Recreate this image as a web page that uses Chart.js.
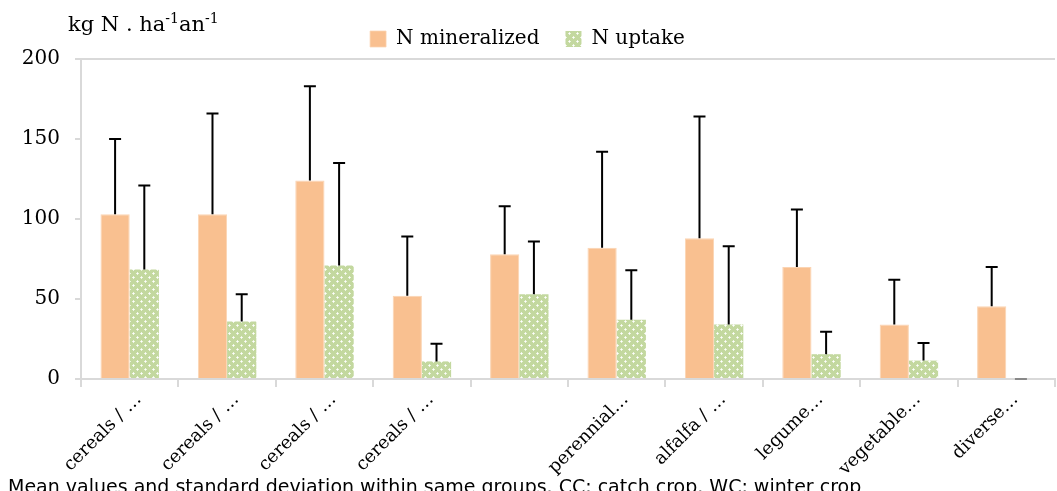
<!DOCTYPE html>
<html>
<head>
<meta charset="utf-8">
<script src="https://cdn.jsdelivr.net/npm/chart.js@4.4.1/dist/chart.umd.min.js"></script>
<style>
  html, body { margin: 0; padding: 0; background: #fff; }
  #wrap { position: relative; width: 1057px; height: 491px; overflow: hidden; }
</style>
</head>
<body>
<div id="wrap"><canvas id="chart"></canvas></div>
<script>
// ============================= data

const categories = ['cereals / …', 'cereals / …', 'cereals / …', 'cereals / …', '',
    'perennial…', 'alfalfa / …', 'legume…', 'vegetable…', 'diverse…']

const nMineralized = [103, 103, 124, 52, 78, 82, 88, 70, 34, 45.5]
const nMineralizedSd = [47, 63, 59, 37, 30, 60, 76, 36, 28, 24.5]

const nUptake = [68.5, 36, 71, 11, 53, 37, 34, 15.5, 11.5, 0]
const nUptakeSd = [52.5, 17, 64, 11, 33, 31, 49, 14, 11, 0]

const yTicks = [0, 50, 100, 150, 200]

const SERIF = '"DejaVu Serif", serif'
const AXIS_GREY = '#d9d9d9'

// ============================= dotted-diamond fill for the uptake bars

const makePattern = () => {
    const c = document.createElement('canvas')
    c.width = 8; c.height = 8
    const g = c.getContext('2d')
    g.fillStyle = '#c3d89f'
    g.fillRect(0, 0, 8, 8)
    const cross = (cx, cy) => {
        g.fillStyle = '#eef5e3'
        g.fillRect(cx - 1, cy, 3, 1)
        g.fillRect(cx, cy - 1, 1, 3)
        g.fillStyle = '#ffffff'
        g.fillRect(cx, cy, 1, 1)
    }
    cross(1, 1)
    cross(5, 5)
    return g.createPattern(c, 'repeat')
}

const canvas = document.getElementById('chart')
canvas.width = 1057
canvas.height = 491
const uptakeFill = makePattern()

// ============================= plugins

const errorBars = {
    id: 'errorBars',
    afterDatasetsDraw(chart) {
        const ctx = chart.ctx
        const yScale = chart.scales.y
        ctx.save()
        ctx.lineWidth = 2
        chart.data.datasets.forEach((ds, di) => {
            const meta = chart.getDatasetMeta(di)
            meta.data.forEach((bar, i) => {
                const top = yScale.getPixelForValue(ds.data[i] + ds.sd[i])
                ctx.strokeStyle = ds.sd[i] > 0 ? '#000' : '#888'
                ctx.beginPath()
                ctx.moveTo(bar.x, bar.y)
                ctx.lineTo(bar.x, top)
                ctx.moveTo(bar.x - 6, top)
                ctx.lineTo(bar.x + 6, top)
                ctx.stroke()
            })
        })
        ctx.restore()
    }
}

const extraText = {
    id: 'extraText',
    afterDraw(chart) {
        const ctx = chart.ctx
        ctx.save()
        ctx.fillStyle = '#000'
        ctx.textBaseline = 'alphabetic'
        // unit label with superscripts
        let x = 68
        const base = 31
        const parts = [['kg N . ha', 21, 0], ['-1', 14, -8], ['an', 21, 0], ['-1', 14, -8]]
        parts.forEach(([t, size, dy]) => {
            ctx.font = `${size}px ${SERIF}`
            ctx.fillText(t, x, base + dy)
            x += ctx.measureText(t).width
        })
        // footnote
        ctx.font = '19px "DejaVu Sans", Verdana, sans-serif'
        ctx.fillText('Mean values and standard deviation within same groups. CC: catch crop. WC: winter crop', 8, 493)
        ctx.restore()
    }
}

// ============================= chart

new Chart(canvas, {
    type: 'bar',
    data: {
        labels: categories,
        datasets: [{
            label: 'N mineralized',
            data: nMineralized,
            sd: nMineralizedSd,
            backgroundColor: '#f9c090',
            borderColor: '#fbd4b3',
            borderWidth: { left: 1, right: 1, top: 1, bottom: 0 }
        }, {
            label: 'N uptake',
            data: nUptake,
            sd: nUptakeSd,
            backgroundColor: uptakeFill,
            borderWidth: 0
        }]
    },
    options: {
        responsive: false,
        animation: false,
        layout: { padding: { left: 0, right: 2, top: 3, bottom: 0 } },
        categoryPercentage: 0.6,
        barPercentage: 1.0,
        plugins: {
            legend: {
                position: 'top',
                labels: {
                    boxWidth: 16,
                    boxHeight: 16,
                    padding: 26,
                    color: '#000',
                    font: { family: SERIF, size: 20 }
                }
            },
            tooltip: { enabled: false }
        },
        scales: {
            x: {
                grid: {
                    drawOnChartArea: false,
                    drawTicks: true,
                    tickLength: 8,
                    color: AXIS_GREY,
                    lineWidth: 2
                },
                border: { color: AXIS_GREY, width: 2 },
                ticks: {
                    color: '#000',
                    minRotation: 45,
                    maxRotation: 45,
                    autoSkip: false,
                    padding: 2,
                    labelOffset: 9,
                    font: { family: SERIF, size: 18 }
                },
                afterFit: (scale) => { scale.height = 112 }
            },
            y: {
                min: 0,
                max: 200,
                afterBuildTicks: (scale) => { scale.ticks = yTicks.map(v => ({ value: v })) },
                grid: {
                    drawOnChartArea: true,
                    tickLength: 6,
                    color: (c) => c.tick && c.tick.value === 200 ? AXIS_GREY : 'rgba(0,0,0,0)',
                    tickColor: AXIS_GREY,
                    lineWidth: 2
                },
                border: { color: AXIS_GREY, width: 2 },
                ticks: {
                    color: '#000',
                    padding: 15,
                    font: { family: SERIF, size: 20 }
                },
                afterFit: (scale) => { scale.width = 81 }
            }
        }
    },
    plugins: [errorBars, extraText]
})
</script>
</body>
</html>
